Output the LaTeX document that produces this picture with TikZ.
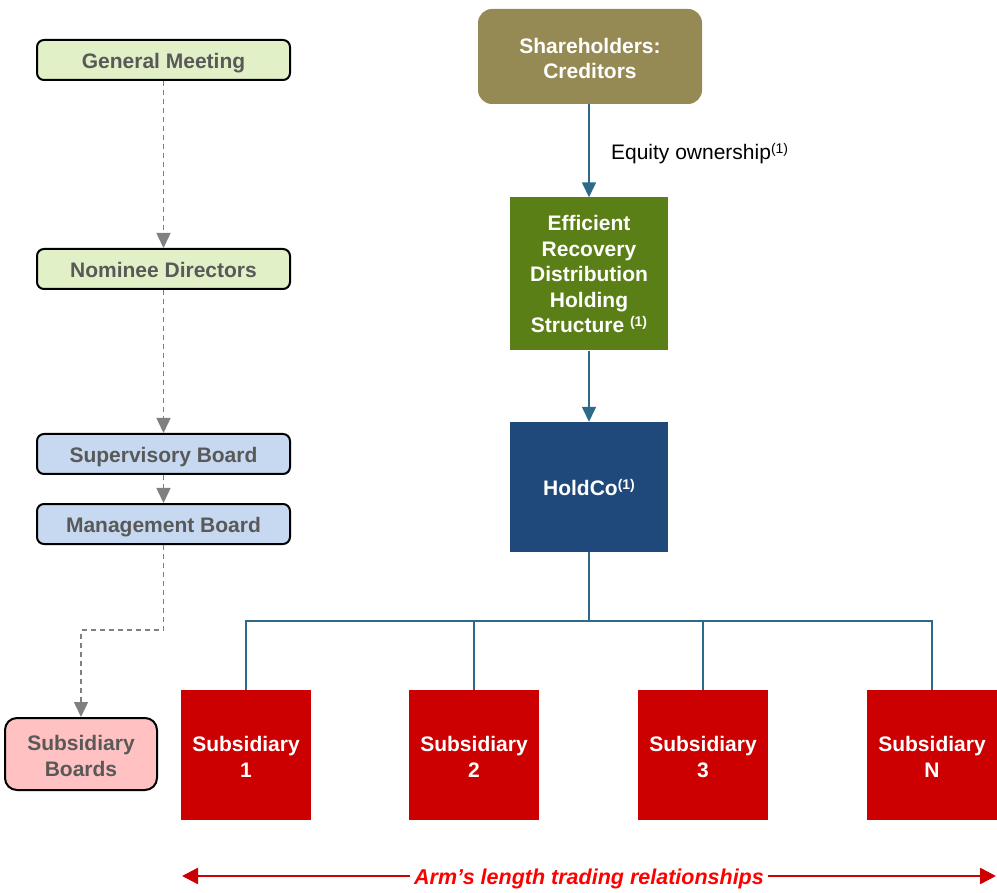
\documentclass[tikz,border=0pt]{standalone}
\usepackage{fontspec}
\setmainfont{Liberation Sans}
\usetikzlibrary{arrows.meta}
\definecolor{gtxt}{HTML}{595959}
\definecolor{lgreen}{HTML}{E2F0C8}
\definecolor{lblue}{HTML}{C6D9F0}
\definecolor{lpink}{HTML}{FFC1C1}
\definecolor{olive}{HTML}{968A54}
\definecolor{dgreen}{HTML}{5B7F17}
\definecolor{navy}{HTML}{20497B}
\definecolor{sred}{HTML}{CC0000}
\definecolor{teal}{HTML}{2D6A8A}
\definecolor{dgray}{HTML}{808080}
\newcommand{\fnref}{{\fontsize{14}{14}\selectfont\raisebox{6pt}{(1)}}}
\begin{document}
\begin{tikzpicture}[x=1pt,y=-1pt,
  font=\fontsize{21}{25.5}\selectfont\bfseries,
  oneline/.style={text height=17pt,text depth=0pt},
  twoline/.style={text height=44.5pt,text depth=0pt},
  govbox/.style={draw=black,line width=2pt,rounded corners=7pt,text=gtxt,align=center,minimum width=253pt,minimum height=40pt,inner sep=0pt,oneline},
  corpbox/.style={text=white,align=center,inner sep=0pt},
  subbox/.style={corpbox,fill=sred,minimum width=130pt,minimum height=130pt,twoline},
  govarrow/.style={dgray,line width=1.5pt,dash pattern=on 5pt off 4pt,-{Triangle[width=14pt,length=15pt,sharp]}},
  ownarrow/.style={teal,line width=1.5pt,-{Triangle[width=14pt,length=15pt,sharp]}},
  ownline/.style={teal,line width=1.5pt}]
\useasboundingbox (0,0) rectangle (997,893);
% governance column
\node[govbox,fill=lgreen] (gm) at (163.5,60) {General Meeting};
\node[govbox,fill=lgreen] (nd) at (163.5,269) {Nominee Directors};
\node[govbox,fill=lblue] (sb) at (163.5,454) {Supervisory Board};
\node[govbox,fill=lblue] (mb) at (163.5,524) {Management Board};
\node[govbox,fill=lpink,minimum width=152pt,minimum height=72pt,rounded corners=12pt,twoline] (subb) at (81,754) {Subsidiary\\Boards};
\coordinate (bend1) at (163.5,630);
\coordinate (bend2) at (81,630);
\draw[govarrow] (gm.south) -- (nd.north);
\draw[govarrow] (nd.south) -- (sb.north);
\draw[govarrow] (sb.south) -- (mb.north);
\draw[govarrow] (mb.south) -- (bend1) -- (bend2) -- (subb.north);
% ownership column
\node[corpbox,fill=olive,rounded corners=14pt,minimum width=224pt,minimum height=95pt,twoline] (sh) at (590,56.5) {Shareholders:\\Creditors};
\node[corpbox,fill=dgreen,minimum width=158pt,minimum height=153pt] (erd) at (589,274) {Efficient\\Recovery\\Distribution\\Holding\\Structure \fnref};
\node[corpbox,fill=navy,minimum width=158pt,minimum height=130pt,oneline] (hc) at (589,487) {HoldCo\fnref};
\draw[ownarrow] (sh.south -| erd.north) -- node[right=18pt,font=\fontsize{21}{25}\selectfont\mdseries,text=black,yshift=-3pt] {Equity ownership\fnref} (erd.north);
\draw[ownarrow] (erd.south) -- (hc.north);
\node[subbox] (s1) at (246,755) {Subsidiary\\1};
\node[subbox] (s2) at (474,755) {Subsidiary\\2};
\node[subbox] (s3) at (703,755) {Subsidiary\\3};
\node[subbox] (sn) at (932,755) {Subsidiary\\N};
\coordinate (bus) at (589,621);
\draw[ownline] (hc.south) -- (bus);
\draw[ownline] (s1.north) |- (bus);
\draw[ownline] (s2.north) |- (bus);
\draw[ownline] (s3.north) |- (bus);
\draw[ownline] (sn.north) |- (bus);
% arm's length
\coordinate (al) at (182,876);
\coordinate (ar) at (996,876);
\draw[sred,line width=2.5pt,{Triangle[width=16pt,length=16pt,sharp]}-{Triangle[width=16pt,length=16pt,sharp]}] (al) -- (ar);
\node[fill=white,text=red,font=\fontsize{21.5}{25}\selectfont\bfseries\itshape,inner xsep=4pt,oneline] (arm) at (589,876) {Arm’s length trading relationships};
\end{tikzpicture}
\end{document}
